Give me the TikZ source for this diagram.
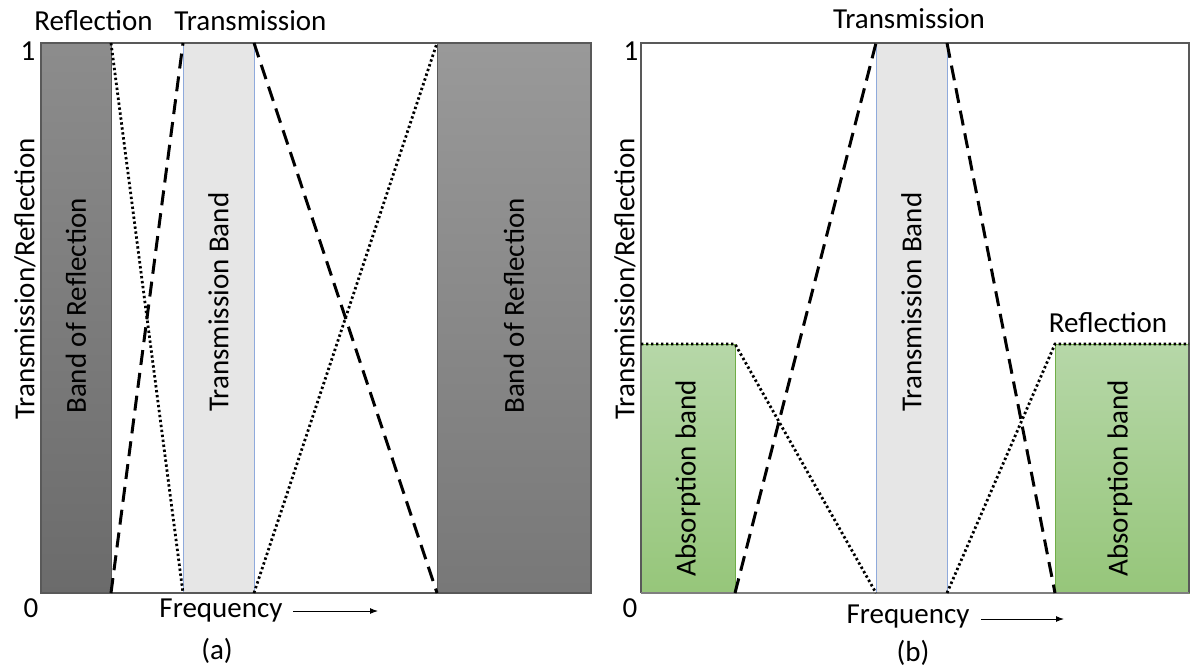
\documentclass[tikz,border=0pt]{standalone}
\usepackage{fontspec}
\setmainfont{Carlito}
\usetikzlibrary{arrows.meta}
\definecolor{framegray}{RGB}{89,89,89}
\definecolor{axisgray}{RGB}{127,127,127}
\definecolor{bandblue}{RGB}{143,170,220}
\definecolor{bandfill}{RGB}{230,230,230}
\definecolor{greentop}{RGB}{182,215,168}
\definecolor{greenbot}{RGB}{150,198,122}
\definecolor{greenedge}{RGB}{112,173,71}

\begin{document}
\begin{tikzpicture}[x=1pt,y=-1pt,
    every node/.style={font=\fontsize{29}{34}\selectfont, inner sep=0pt},
    tline/.style={line width=3pt, dash pattern=on 15pt off 8pt},
    rline/.style={line width=2.8pt, dash pattern=on 2.4pt off 2.6pt},
    tband/.style={draw=bandblue, fill=bandfill, line width=1pt},
    absband/.style={draw=greenedge, line width=1pt, top color=greentop, bottom color=greenbot},
    freqarrow/.style={line width=1pt, -{Latex[length=8pt,width=6pt]}},
    vlabel/.style={rotate=90}]
\useasboundingbox (0,0) rectangle (1191,671);

% Panel (a): bands
\shadedraw[draw=framegray, top color=black!45, bottom color=black!58] (41,43) rectangle (111,593);
\shadedraw[draw=framegray, top color=black!40, bottom color=black!53] (437,43) rectangle (591,593);
\filldraw[tband] (183,43) rectangle (254,593);
\draw[framegray, line width=1.5pt] (41,43) rectangle (591,593);

% Panel (a): curve corners
\coordinate (a1t) at (111,43);  \coordinate (a1b) at (111,593);
\coordinate (a2t) at (183,43);  \coordinate (a2b) at (183,593);
\coordinate (a3t) at (254,43);  \coordinate (a3b) at (254,593);
\coordinate (a4t) at (437,43);  \coordinate (a4b) at (437,593);

% Transmission (dashed) and reflection (dotted)
\draw[tline] (a1b) -- (a2t);
\draw[tline] (a3t) -- (a4b);
\draw[rline] (a1t) -- (a2b);
\draw[rline] (a3b) -- (a4t);

% Panel (a): labels
\node[vlabel] (ylabA) at (25,279) {Transmission/Reflection};
\node[vlabel] (bandA1) at (76,306) {Band of Reflection};
\node[vlabel] (tbandA) at (218.5,302) {Transmission Band};
\node[vlabel] (bandA2) at (514,306) {Band of Reflection};
\node[anchor=base] (reflA) at (93.5,31) {Reflection};
\node[anchor=base] (transA) at (250.5,31) {Transmission};
\node (oneA) at (28,51) {1};
\node (zeroA) at (31,608) {0};
\node[anchor=base] (freqA) at (221,617) {Frequency};
\coordinate (fa1) at (293,611);
\coordinate (fa2) at (378,611);
\draw[freqarrow] (fa1) -- (fa2);
\node[anchor=base] (capA) at (217,659) {(a)};

% Panel (b): bands
\shadedraw[absband] (641,344) rectangle (735,593);
\shadedraw[absband] (1055,344) rectangle (1189,593);
\filldraw[tband] (876,43) rectangle (947,593);
\draw[framegray, line width=1.5pt] (641,593) -- (641,43) -- (1189,43) -- (1189,593);
\draw[axisgray, line width=1.5pt] (641,593) -- (1189,593);

% Panel (b): curve corners
\coordinate (b1t) at (641,344);
\coordinate (b2t) at (735,344);  \coordinate (b2b) at (735,593);
\coordinate (b3t) at (876,43);   \coordinate (b3b) at (876,593);
\coordinate (b4t) at (947,43);   \coordinate (b4b) at (947,593);
\coordinate (b5t) at (1055,344); \coordinate (b5b) at (1055,593);
\coordinate (b6t) at (1189,344);

% Transmission (dashed) and reflection (dotted)
\draw[tline] (b2b) -- (b3t);
\draw[tline] (b4t) -- (b5b);
\draw[rline] (b1t) -- (b2t) -- (b3b);
\draw[rline] (b4b) -- (b5t) -- (b6t);

% Panel (b): labels
\node[vlabel] (ylabB) at (625,279) {Transmission/Reflection};
\node[vlabel] (absB1) at (688,478) {Absorption band};
\node[vlabel] (tbandB) at (911.5,302) {Transmission Band};
\node[vlabel] (absB2) at (1120,478) {Absorption band};
\node[anchor=base] (transB) at (909,29) {Transmission};
\node[anchor=base] (reflB) at (1108,332) {Reflection};
\node (oneB) at (631,51) {1};
\node (zeroB) at (630,608) {0};
\node[anchor=base] (freqB) at (908,623) {Frequency};
\coordinate (fb1) at (981,619);
\coordinate (fb2) at (1064,619);
\draw[freqarrow] (fb1) -- (fb2);
\node[anchor=base] (capB) at (913,661) {(b)};
\end{tikzpicture}
\end{document}
